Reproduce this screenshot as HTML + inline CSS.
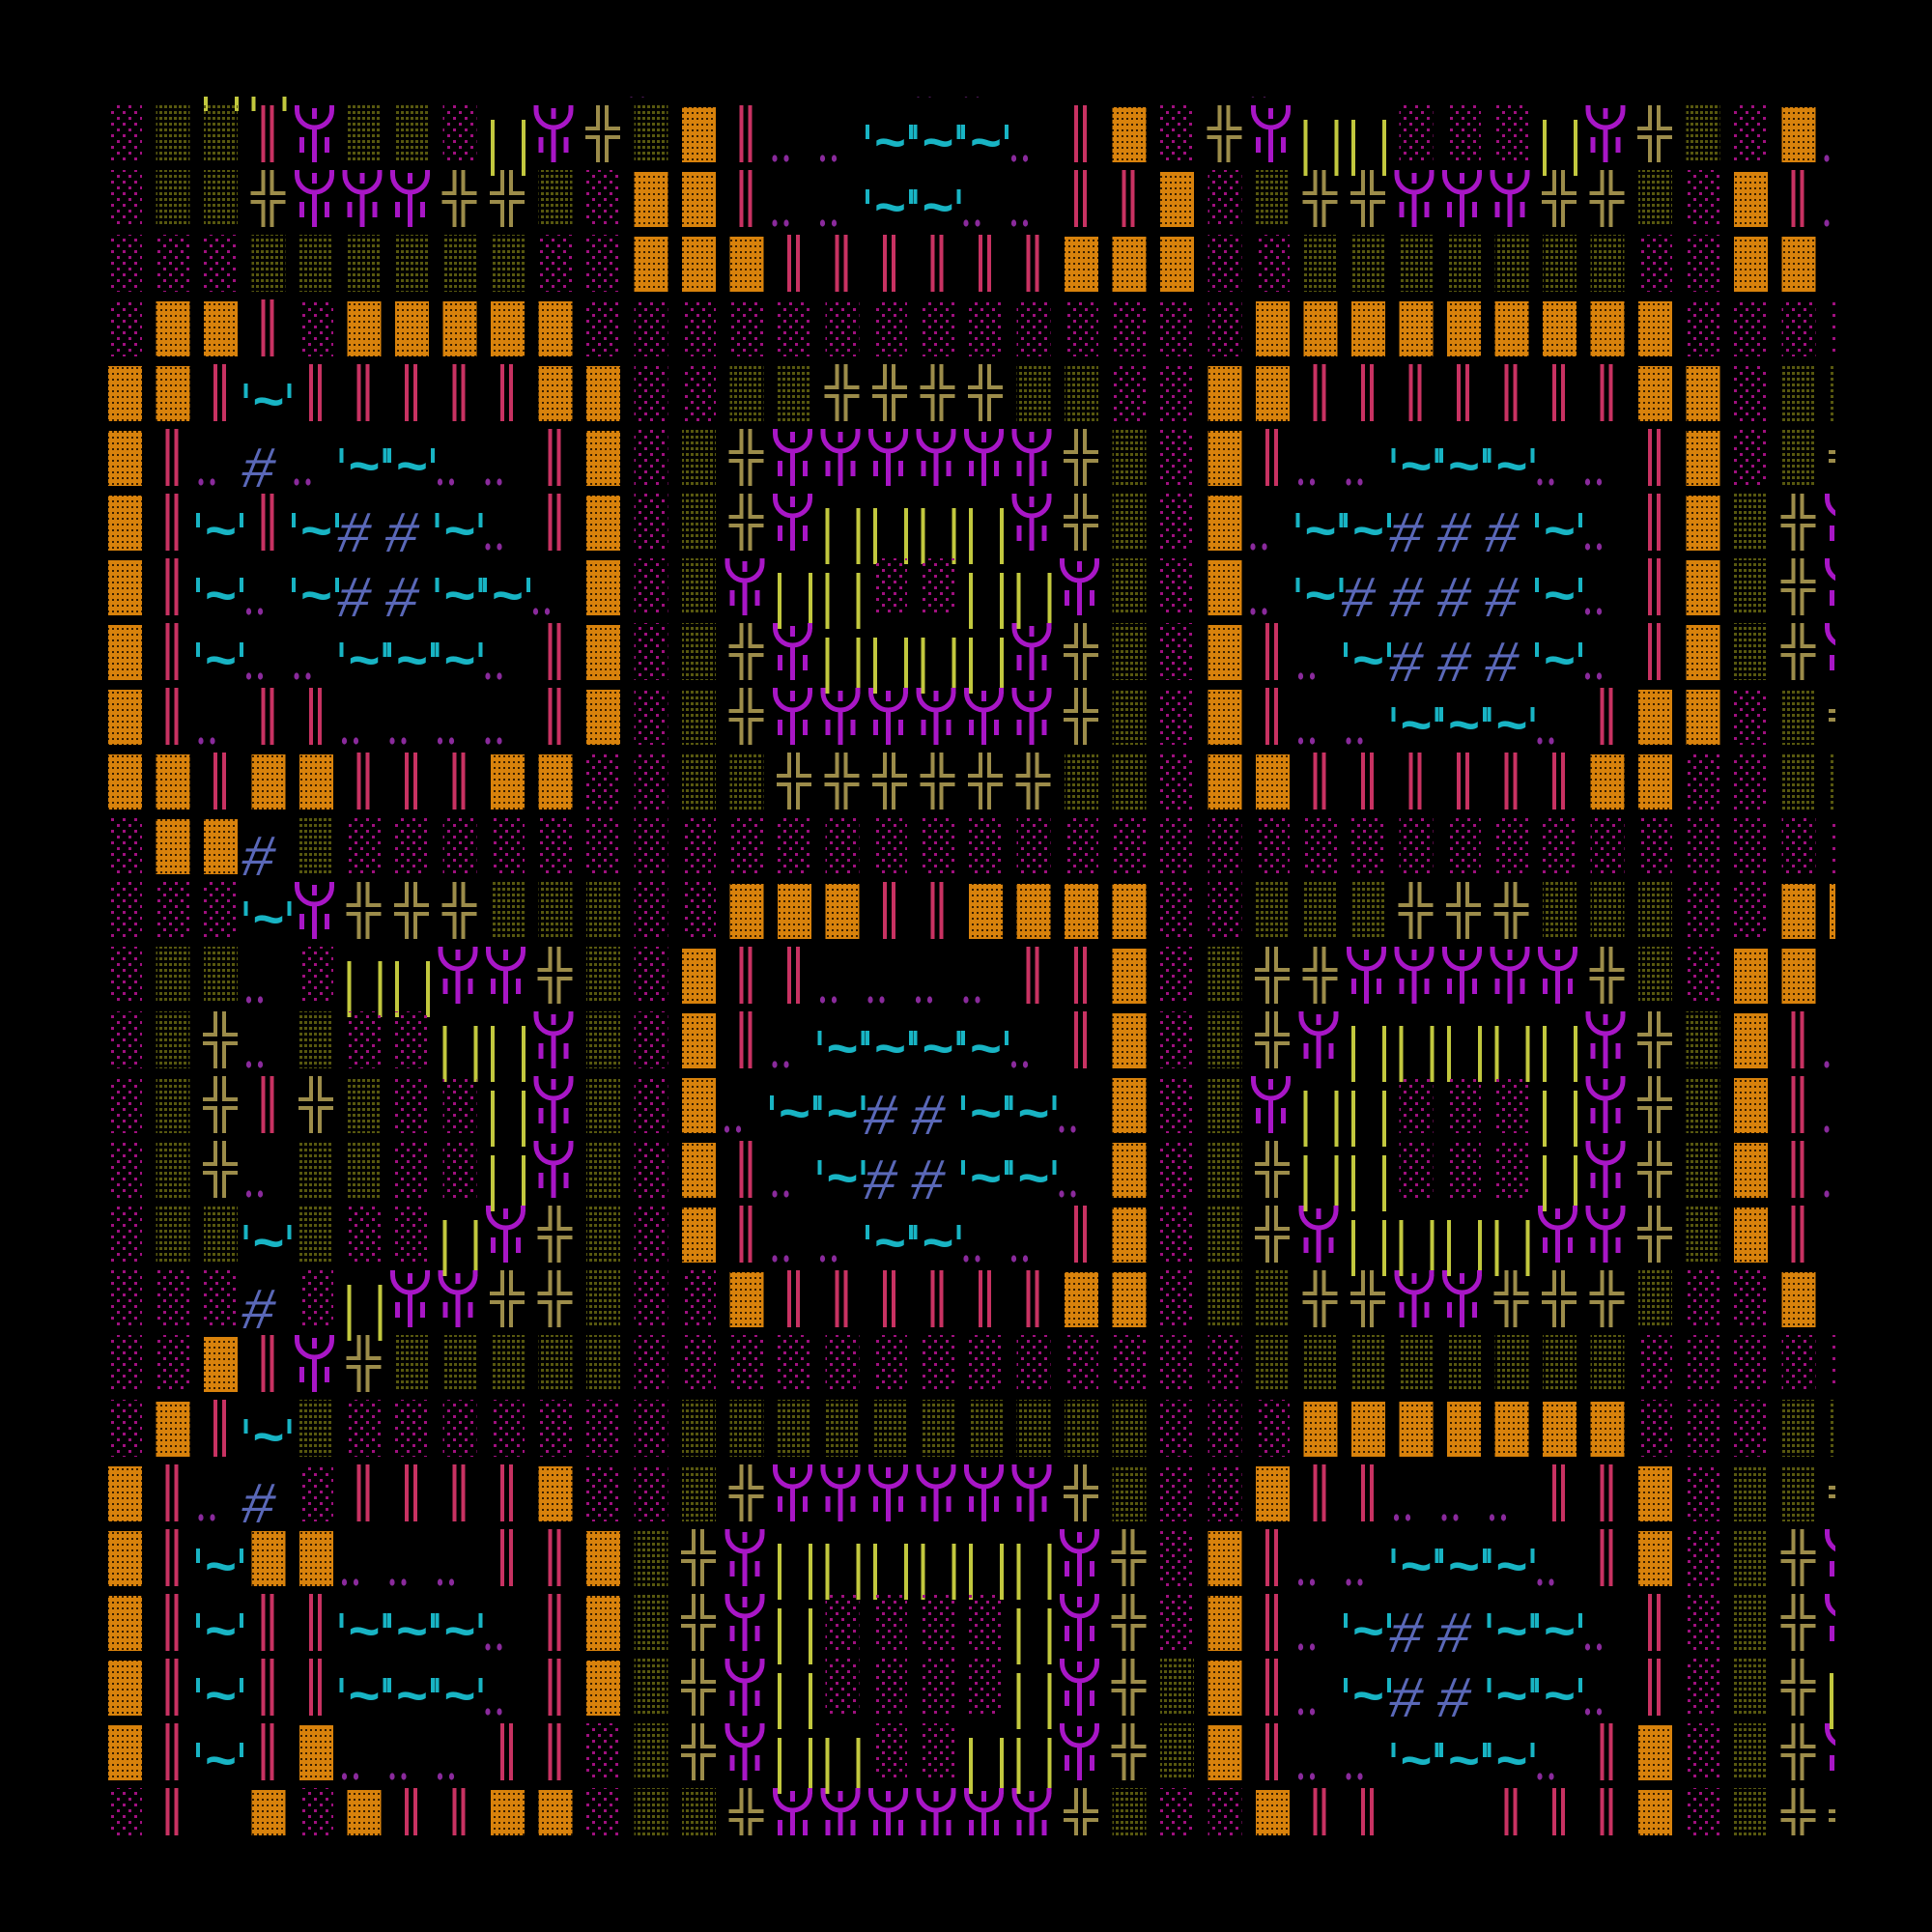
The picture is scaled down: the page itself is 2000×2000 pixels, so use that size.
<!DOCTYPE html>
<html><head><meta charset="utf-8">
<style>
html,body{margin:0;padding:0;background:#000;width:2000px;height:2000px;overflow:hidden}
svg{display:block}
</style></head>
<body>
<svg id="s" xmlns="http://www.w3.org/2000/svg" width="2000" height="2000" viewBox="0 0 2000 2000">
<defs>
<pattern id="pm" patternUnits="userSpaceOnUse" width="12" height="12">
<rect x="1" y="1" width="3" height="3" fill="#a0107f"/><rect x="7" y="7" width="3" height="3" fill="#a0107f"/>
</pattern>
<pattern id="po" patternUnits="userSpaceOnUse" width="5" height="6">
<rect x="0" y="1" width="3" height="3" fill="#58580f"/>
</pattern>
<pattern id="pO" patternUnits="userSpaceOnUse" width="5" height="6">
<rect width="5" height="6" fill="#d8820c"/><rect x="1" y="2" width="2" height="2" fill="#3a2000"/>
</pattern>
<clipPath id="cp"><rect x="100" y="100" width="1800" height="1800"/></clipPath>
</defs>
<rect width="2000" height="2000" fill="#000"/>
<g id="g" clip-path="url(#cp)"></g>
</svg>
<script>
var G=[
"__||_______._____.._____.___________",
"mooHYoom|Y+oOH..~~~.HOm+Y||mmm|Y+omO.",
"moo+YYY++omOOH..~~..HHOmo++YYY++omOH.",
"mmmoooooommOOOHHHHHHOOOmmooooooommOO_",
"mOOHmOOOOOmmmmmmmmmmmmmmOOOOOOOOOmmmm",
"OOH~HHHHHOOmmoo++++oommOOHHHHHHHOOmoo",
"OH.#.~~..HOmo+YYYYYY+omOH..~~~..HOmo+",
"OH~H~##~.HOmo+Y||||Y+omO.~~###~.HOo+Y",
"OH~.~##~~.OmoY||mm||YomO.~####~.HOo+Y",
"OH~..~~~.HOmo+Y||||Y+omOH.~###~.HOo+Y",
"OH.HH....HOmo+YYYYYY+omOH..~~~.HOOmo+",
"OOHOOHHHOOmmoo++++++oomOOHHHHHHOOmmoo",
"mOO#ommmmmmmmmmmmmmmmmmmmmmmmmmmmmmmm",
"mmm~Y+++ooommOOOHHOOOOmmooo+++ooommOO",
"moo.m||YY+omOHH....HHOmo++YYYYY+omOO_",
"mo+.omm||YomOH.~~~~.HOmo+Y|||||Y+oOH.",
"mo+H+omm|YomO.~~##~~.OmoY||mmm|Y+oOH.",
"mo+.oomm|YomOH.~##~~.Omo+||mmm|Y+oOH.",
"moo~omm|Y+omOH..~~..HOmo+Y||||YY+oOH_",
"mmm#m|YY++ommOHHHHHHOOmoo++YY+++ommO_",
"",
"",
"OH.#mHHHHOmmo+YYYYYY+ommOHH...HHOmoo+",
"OH~OO...HHOo+Y||||||Y+mOH..~~~.HOmo+Y",
"OH~HH~~~.HOo+Y|mmmm|Y+mOH.~##~~.Hmo+Y",
"OH~HH~~~.HOo+Y|mmmm|Y+oOH.~##~~.Hmo+|",
"OH~HO...HHmo+Y||mm||Y+oOH..~~~.HOmo+Y",
"mH_OmOHHOOmoo+YYYYYY+ommOHH__HHHOmo++"
];
G[20]="mmOHY+ooooo"+"mmmmmmmmmmmmm"+"oooooooo"+"mmmm"+"m";
G[21]="mOH~o"+"mmmmmmm"+"oooooooooo"+"mmm"+"OOOOOOO"+"mmm"+"o"+"o";
var L=112,P=49.5,T=109,RP=67;
var out=[];
function R(x,y,w,h,c){out.push('<rect x="'+x.toFixed(1)+'" y="'+y.toFixed(1)+'" width="'+w+'" height="'+h+'" fill="'+c+'"/>');}
for(var i=0;i<G.length;i++){
  var r=i-1, row=G[i];
  var y=T+RP*r;
  for(var k=0;k<row.length;k++){
    var c=row[k], x=L+P*k;
    switch(c){
      case 'm': R(x,y,35,59,'url(#pm)');break;
      case 'o': R(x,y,35,59,'url(#po)');break;
      case 'O': R(x,y+2,35,57,'url(#pO)');break;
      case 'H': R(x+10,y,4,59,'#c83262');R(x+19,y,4,59,'#c83262');break;
      case '|': R(x,y+15,4,58,'#c2c83e');R(x+32,y+15,4,58,'#c2c83e');break;
      case '+':
        var cc='#9c8c4a';
        R(x+10,y,4,26,cc);R(x+19,y,4,26,cc);
        R(x+10,y+31,4,28,cc);R(x+19,y+31,4,28,cc);
        R(x-1,y+22,15,4,cc);R(x+19,y+22,16,4,cc);
        R(x-1,y+31,15,4,cc);R(x+19,y+31,16,4,cc);
        break;
      case 'Y':
        out.push('<g transform="translate('+x.toFixed(1)+','+y+')" stroke="#a816c6" stroke-width="5" fill="none">'+
          '<path d="M-2.5 0 V5 A18 18 0 0 0 33.5 5 V0"/>'+
          '<line x1="15.5" y1="22" x2="15.5" y2="59"/>'+
          '<line x1="15.5" y1="3" x2="15.5" y2="14"/>'+
          '<line x1="2.5" y1="33" x2="2.5" y2="49"/>'+
          '<line x1="28.5" y1="33" x2="28.5" y2="49"/></g>');
        break;
      case '~':
        R(x-8,y+20,4,15,'#18b4c4');R(x+37,y+20,4,15,'#18b4c4');
        out.push('<text x="'+(x+17.5).toFixed(1)+'" y="'+(y+57)+'" text-anchor="middle" font-family="Liberation Mono, monospace" font-weight="bold" font-size="56" fill="#18b4c4">~</text>');
        break;
      case '#':
        out.push('<text x="'+(x+7).toFixed(1)+'" y="'+(y+60)+'" text-anchor="middle" font-family="Liberation Mono, monospace" font-style="italic" font-size="60" fill="#5a68b8">#</text>');
        break;
      case '.':
        out.push('<ellipse cx="'+(x-3).toFixed(1)+'" cy="'+(y+55)+'" rx="2.6" ry="3.6" fill="#8a2a9c"/>');
        out.push('<ellipse cx="'+(x+9).toFixed(1)+'" cy="'+(y+55)+'" rx="2.6" ry="3.6" fill="#8a2a9c"/>');
        break;
    }
  }
}
document.getElementById('g').innerHTML=out.join('');
</script>
</body></html>
